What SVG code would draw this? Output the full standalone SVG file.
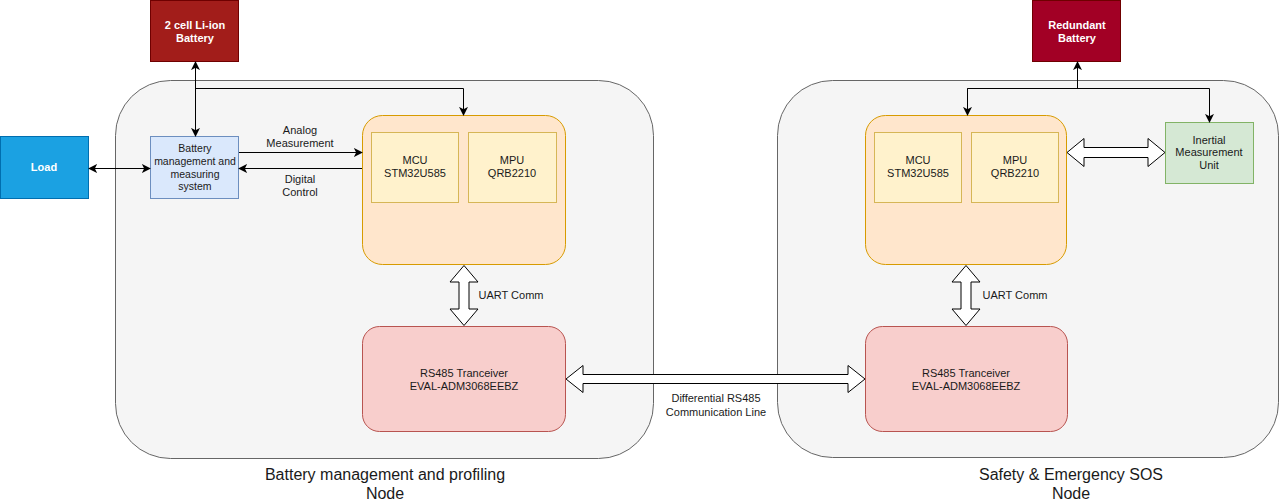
<svg xmlns="http://www.w3.org/2000/svg" width="1280" height="504" viewBox="0 0 1280 504">
<defs>
<marker id="arr" viewBox="0 0 10 10" refX="9" refY="5" markerWidth="9" markerHeight="9" markerUnits="userSpaceOnUse" orient="auto-start-reverse">
<path d="M0,0 L10,5 L0,10 L2.5,5 z" fill="#000"/>
</marker>
<style>
text{font-family:"Liberation Sans",Arial,Helvetica,sans-serif;font-size:11px;fill:#1a1a1a;text-anchor:middle}
.w{fill:#fff;font-weight:bold}
.big{font-size:16px}
.sm{font-size:10.5px}
.cont{fill:#f5f5f5;stroke:#666;stroke-width:1}
.bat1{fill:#a21d1a;stroke:#6f0000}
.bat2{fill:#a20025;stroke:#6f0000}
.load{fill:#1ba1e2;stroke:#006eaf}
.bms{fill:#dae8fc;stroke:#6c8ebf}
.proc{fill:#ffe6cc;stroke:#d79b00}
.chip{fill:#fff2cc;stroke:#d6b656}
.rs{fill:#f8cecc;stroke:#b85450}
.imu{fill:#d5e8d4;stroke:#82b366}
.ln{fill:none;stroke:#000;stroke-width:1}
.fa{fill:#fff;stroke:#000;stroke-width:1;stroke-linejoin:miter}
</style>
</defs>
<rect width="1280" height="504" fill="#fff"/>

<g id="node-left-container">
<rect class="cont" x="115.5" y="80.5" width="538" height="378" rx="55" ry="55"/>
<text class="big" x="385" y="480">Battery management and profiling</text>
<text class="big" x="385" y="499">Node</text>
</g>
<g id="node-right-container">
<rect class="cont" x="777.5" y="80.5" width="501" height="377" rx="55" ry="55"/>
<text class="big" x="1071" y="480">Safety &amp; Emergency SOS</text>
<text class="big" x="1071" y="499">Node</text>
</g>

<g id="node-battery">
<rect class="bat1" x="150.5" y="0.5" width="88" height="61"/>
<text class="w" x="195" y="29">2 cell Li-ion</text>
<text class="w" x="195" y="42">Battery</text>
</g>
<g id="node-load">
<rect class="load" x="0.5" y="136.5" width="88" height="62"/>
<text class="w" x="44" y="171">Load</text>
</g>
<g id="node-bms">
<rect class="bms" x="150.5" y="136.5" width="88" height="62"/>
<text class="sm" x="195" y="152">Battery</text>
<text class="sm" x="195" y="165">management and</text>
<text class="sm" x="195" y="178">measuring</text>
<text class="sm" x="195" y="190">system</text>
</g>
<g id="node-left-proc">
<rect class="proc" x="362.5" y="115.5" width="203" height="149" rx="20" ry="20"/>
</g>
<g id="node-left-mcu">
<rect class="chip" x="371.5" y="132.5" width="87" height="70"/>
<text x="415" y="164">MCU</text>
<text x="415" y="177">STM32U585</text>
</g>
<g id="node-left-mpu">
<rect class="chip" x="468.5" y="132.5" width="88" height="70"/>
<text x="512" y="164">MPU</text>
<text x="512" y="177">QRB2210</text>
</g>
<g id="node-left-rs485">
<rect class="rs" x="362.5" y="326.5" width="203" height="105" rx="17" ry="17"/>
<text x="464" y="377">RS485 Tranceiver</text>
<text x="464" y="390">EVAL-ADM3068EEBZ</text>
</g>

<g id="node-redundant-battery">
<rect class="bat2" x="1032.5" y="0.5" width="88" height="61"/>
<text class="w" x="1077" y="29">Redundant</text>
<text class="w" x="1077" y="42">Battery</text>
</g>
<g id="node-right-proc">
<rect class="proc" x="865.5" y="115.5" width="201" height="149" rx="20" ry="20"/>
</g>
<g id="node-right-mcu">
<rect class="chip" x="874.5" y="132.5" width="87" height="70"/>
<text x="918" y="164">MCU</text>
<text x="918" y="177">STM32U585</text>
</g>
<g id="node-right-mpu">
<rect class="chip" x="971.5" y="132.5" width="87" height="70"/>
<text x="1015" y="164">MPU</text>
<text x="1015" y="177">QRB2210</text>
</g>
<g id="node-imu">
<rect class="imu" x="1165.5" y="122.5" width="88" height="61"/>
<text x="1209" y="144">Inertial</text>
<text x="1209" y="156">Measurement</text>
<text x="1209" y="169">Unit</text>
</g>
<g id="node-right-rs485">
<rect class="rs" x="865.5" y="326.5" width="202" height="105" rx="17" ry="17"/>
<text x="966" y="377">RS485 Tranceiver</text>
<text x="966" y="390">EVAL-ADM3068EEBZ</text>
</g>

<g id="connectors">
<path class="ln" d="M195.5,62 V136" marker-start="url(#arr)" marker-end="url(#arr)"/>
<path class="ln" d="M195.5,88.5 H463.5 V115" marker-end="url(#arr)"/>
<path class="ln" d="M89,168.5 H150" marker-start="url(#arr)" marker-end="url(#arr)"/>
<path class="ln" d="M239,152.5 H362" marker-end="url(#arr)"/>
<path class="ln" d="M362,168.5 H239" marker-end="url(#arr)"/>
<text x="300" y="134">Analog</text>
<text x="300" y="147">Measurement</text>
<text x="300" y="183">Digital</text>
<text x="300" y="196">Control</text>

<path class="fa" d="M464,265.5 L478,282 L469,282 L469,309 L478,309 L464,325.5 L450,309 L459,309 L459,282 L450,282 Z"/>
<text x="511" y="299">UART Comm</text>

<path class="fa" d="M566,379 L583,365.5 L583,374.5 L848,374.5 L848,365.5 L865,379 L848,392.5 L848,383.5 L583,383.5 L583,392.5 Z"/>
<text x="716" y="402">Differential RS485</text>
<text x="716" y="416">Communication Line</text>

<path class="ln" d="M1077.5,88.5 V62" marker-end="url(#arr)"/>
<path class="ln" d="M967.5,115 V88.5 H1209.5 V122" marker-end="url(#arr)"/>
<path class="ln" d="M967.5,88.5 V115" marker-end="url(#arr)"/>

<path class="fa" d="M1067,152.5 L1084,138.5 L1084,147.5 L1148,147.5 L1148,138.5 L1165,152.5 L1148,166.5 L1148,157.5 L1084,157.5 L1084,166.5 Z"/>

<path class="fa" d="M966,265.5 L980,282 L971,282 L971,309 L980,309 L966,325.5 L952,309 L961,309 L961,282 L952,282 Z"/>
<text x="1015" y="299">UART Comm</text>
</g>
</svg>
